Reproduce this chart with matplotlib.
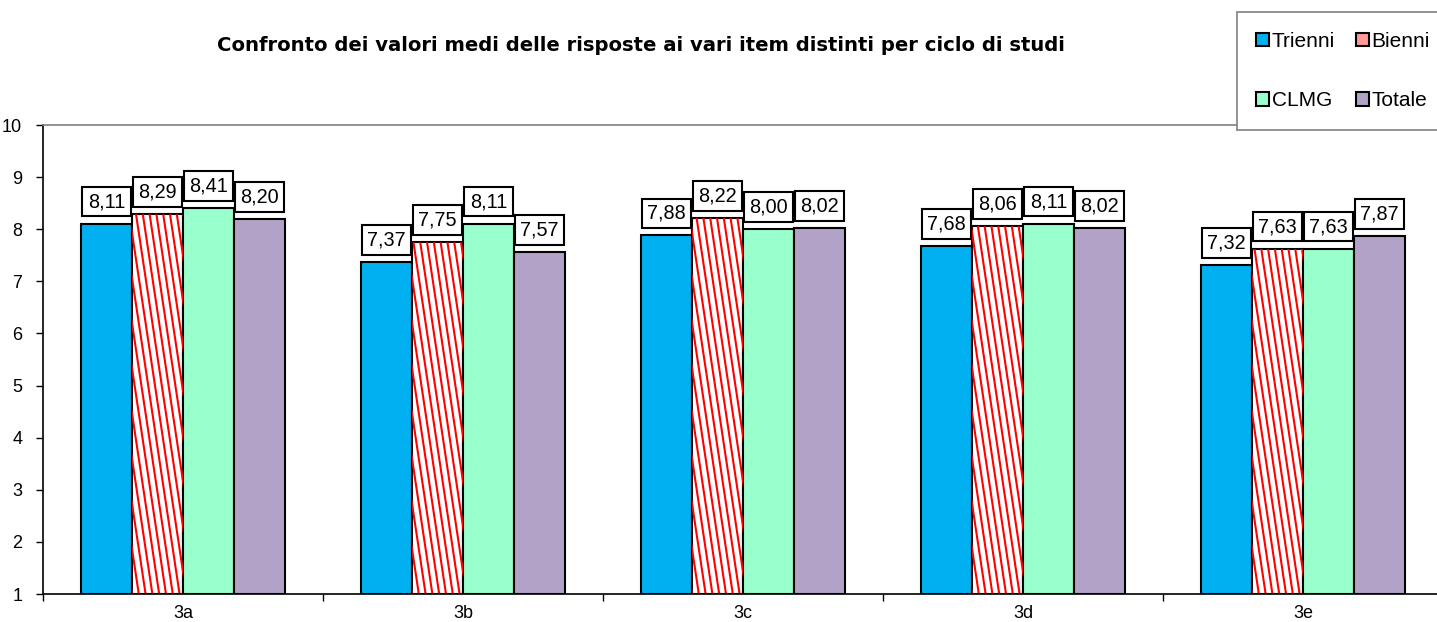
#!/usr/bin/env python3

'''Bar chart: mean answers per item, grouped by study cycle.'''

import matplotlib
matplotlib.use('Agg')
import matplotlib.pyplot as plt
import matplotlib.patches as mpatches
import numpy as np


ITEMS = ['3a', '3b', '3c', '3d', '3e']
SERIES = ['Trienni', 'Bienni', 'CLMG', 'Totale']

TRIENNI = [8.11, 7.37, 7.88, 7.68, 7.32]
BIENNI = [8.29, 7.75, 8.22, 8.06, 7.63]
CLMG = [8.41, 8.11, 8.00, 8.11, 7.63]
TOTALE = [8.20, 7.57, 8.02, 8.02, 7.87]

Y_TICKS = [1, 2, 3, 4, 5, 6, 7, 8, 9, 10]

TITLE = 'Confronto dei valori medi delle risposte ai vari item distinti per ciclo di studi'

COLORS = ['#00B0F0', 'white', '#99FFCC', '#B3A2C7']
LEGEND_COLORS = ['#00B0F0', '#FF9999', '#99FFCC', '#B3A2C7']
BAR_W = 0.182
LW = 1.5

plt.rcParams['font.family'] = ['Liberation Sans', 'DejaVu Sans']


def add_stripes(axis, bar):
    '''Steep red diagonal stripes clipped to the bar.'''
    x0, w = bar.get_x(), bar.get_width()
    y0, y1 = 1, bar.get_y() + bar.get_height()
    step = w / 7.5
    lean = 0.028  # x shift per y unit
    span = (y1 - y0) * lean
    for xs in np.arange(x0 - span - step, x0 + w + step, step):
        line, = axis.plot([xs, xs + span], [y1, y0], color='red',
                          linewidth=1.5, solid_capstyle='butt', zorder=2.5)
        line.set_clip_path(bar)


def plot_graph():
    fig = plt.figure(figsize=(14.37, 6.22), dpi=100)
    axis = fig.add_axes([0.0299, 0.045, 0.9743, 0.754])

    data = [TRIENNI, BIENNI, CLMG, TOTALE]
    x = np.arange(len(ITEMS))
    for i, (vals, color) in enumerate(zip(data, COLORS)):
        offs = (i - 1.5) * BAR_W
        bars = axis.bar(x + offs, np.array(vals) - 1, bottom=1, width=BAR_W,
                        color=color, edgecolor='black', linewidth=LW,
                        zorder=2)
        for bar, val in zip(bars, vals):
            if SERIES[i] == 'Bienni':
                add_stripes(axis, bar)
            axis.annotate(('%.2f' % val).replace('.', ','),
                          (bar.get_x() + bar.get_width() / 2, val),
                          xytext=(0, 22), textcoords='offset pixels',
                          ha='center', va='center', fontsize=14.3,
                          zorder=4,
                          bbox=dict(boxstyle='square,pad=0.27', fc='white',
                                    ec='black', lw=LW))

    axis.set_xlim(-0.5, len(ITEMS) - 0.5)
    axis.set_ylim(1, 10)
    axis.set_yticks(Y_TICKS)
    axis.tick_params(axis='y', labelsize=13, length=5, width=1, pad=10)

    axis.set_xticks(np.arange(len(ITEMS) + 1) - 0.5)
    axis.set_xticklabels([])
    axis.set_xticks(x, minor=True)
    axis.set_xticklabels(ITEMS, minor=True)
    axis.tick_params(axis='x', which='major', length=5, width=1)
    axis.tick_params(axis='x', which='minor', length=0, labelsize=13, pad=8)

    for side in ('left', 'bottom'):
        axis.spines[side].set_color('black')
        axis.spines[side].set_linewidth(1.2)
    axis.spines['top'].set_color('#808080')
    axis.spines['top'].set_linewidth(1.2)
    axis.spines['right'].set_visible(False)

    fig.text(0.446, 0.927, TITLE, ha='center', va='center',
             fontsize=14.1, fontweight='bold', family='DejaVu Sans')

    # legend fills column by column, so reorder for Trienni/Bienni on top
    order = [0, 2, 1, 3]
    handles = [mpatches.Patch(facecolor=LEGEND_COLORS[k], edgecolor='black',
                              linewidth=1.5) for k in order]
    labels = [SERIES[k] for k in order]
    leg = fig.legend(handles, labels, loc='upper left', ncol=2,
                     bbox_to_anchor=(0.8605, 0.981), fontsize=15,
                     handlelength=0.6, handleheight=0.6,
                     handletextpad=0.15, columnspacing=1.0,
                     labelspacing=1.95, borderpad=0.95, borderaxespad=0,
                     fancybox=False, framealpha=1)
    leg.get_frame().set_edgecolor('#808080')
    leg.get_frame().set_linewidth(1.2)

    fig.savefig('out.png', dpi=100)


if __name__ == '__main__':
    plot_graph()
